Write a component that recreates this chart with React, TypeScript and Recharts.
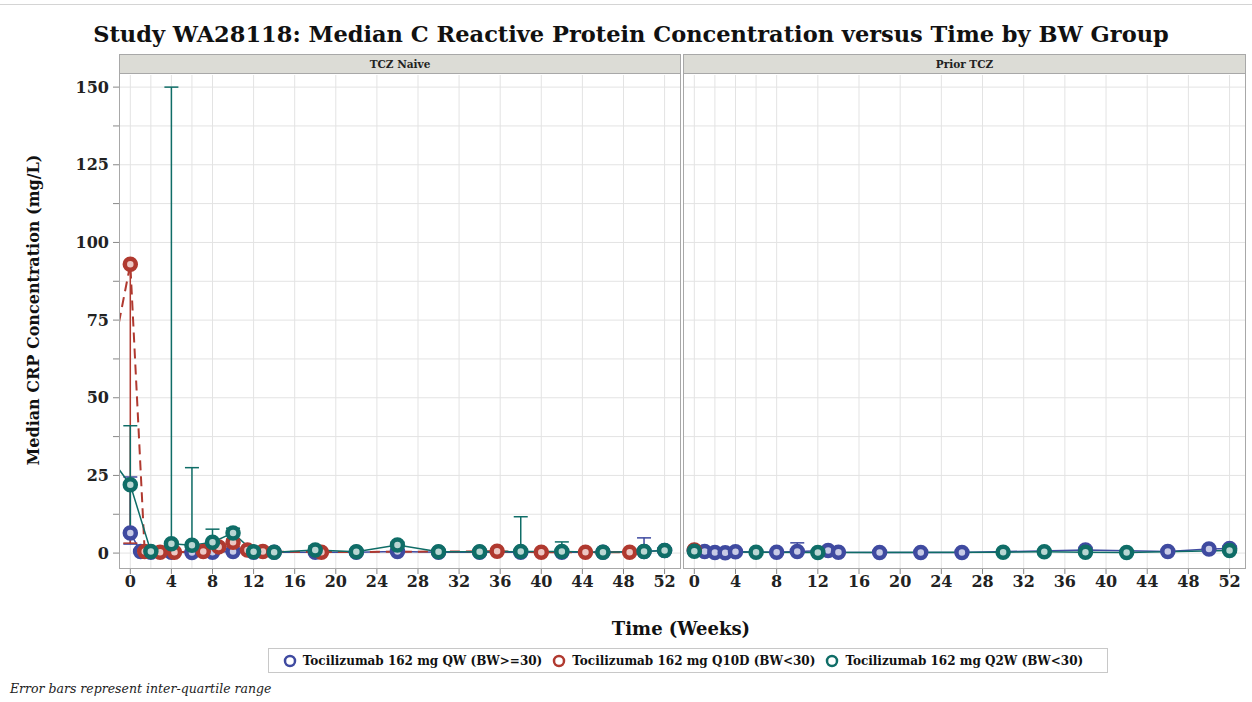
import React from 'react';
import { ComposedChart, Line, XAxis, YAxis, CartesianGrid, ErrorBar } from 'recharts';

const SERIF = "'DejaVu Serif', serif";
const BLUE = '#3f4aa0';
const RED = '#b0392f';
const TEAL = '#0f6d67';

const xTicks = [0, 4, 8, 12, 16, 20, 24, 28, 32, 36, 40, 44, 48, 52];
const xGrid = [0, 2, 4, 6, 8, 10, 12, 14, 16, 18, 20, 22, 24, 26, 28, 30, 32, 34, 36, 38, 40, 42, 44, 46, 48, 50, 52];
const yTicks = [0, 12.5, 25, 37.5, 50, 62.5, 75, 87.5, 100, 112.5, 125, 137.5, 150];

// TCZ Naive - QW (BW>=30)
const naiveWeeksQW = [0, 1, 2, 4, 6, 8, 10, 12, 14, 18, 22, 26, 30, 34, 38, 42, 46, 50, 52];
const naiveMedQW = [6.5, 0.5, 0.3, 0.3, 0.2, 0.3, 0.5, 0.3, 0.3, 0.3, 0.3, 0.5, 0.3, 0.3, 0.3, 0.3, 0.3, 0.5, 0.8];
const naiveQ1QW = [2.9, 0.2, 0.1, 0.1, 0.1, 0.1, 0.2, 0.1, 0.1, 0.1, 0.1, 0.2, 0.1, 0.1, 0.1, 0.1, 0.1, 0.2, 0.3];
const naiveQ3QW = [24.5, 1, 0.8, 0.8, 0.6, 0.8, 1, 0.8, 0.8, 0.8, 0.8, 1, 0.8, 0.8, 0.8, 0.8, 0.8, 4.9, 1.5];

// TCZ Naive - Q10D (BW<30); first point is off the left edge (screening)
const naiveWeeksQ10D = [-2, 0, 1.4, 2.9, 4.3, 7.1, 8.6, 10, 11.4, 12.9, 18.6, 35.7, 40, 44.3, 48.6];
const naiveMedQ10D = [59, 93, 0.5, 0.3, 0.3, 0.5, 2, 3.5, 1, 0.5, 0.3, 0.6, 0.3, 0.3, 0.3];
const naiveQ1Q10D = [null, 3.2, 0.2, 0.1, 0.1, 0.2, 1, 2, 0.4, 0.2, 0.1, 0.2, 0.1, 0.1, 0.1];
const naiveQ3Q10D = [null, 93.5, 1, 0.8, 0.8, 1, 3, 4.5, 1.5, 1, 0.8, 1.2, 0.8, 0.8, 0.8];

// TCZ Naive - Q2W (BW<30)
const naiveWeeksQ2W = [-2, 0, 2, 4, 6, 8, 10, 12, 14, 18, 22, 26, 30, 34, 38, 42, 46, 50, 52];
const naiveMedQ2W = [31, 22, 0.5, 3, 2.5, 3.5, 6.5, 0.4, 0.3, 1, 0.4, 2.6, 0.4, 0.4, 0.5, 0.5, 0.3, 0.5, 0.8];
const naiveQ1Q2W = [null, 6, 0.2, 0.5, 0.5, 1, 4, 0.1, 0.1, 0.3, 0.1, 1, 0.1, 0.1, 0.2, 0.2, 0.1, 0.2, 0.3];
const naiveQ3Q2W = [null, 41, 1, 150, 27.5, 7.7, 8, 1, 0.8, 2.3, 1, 3.5, 1, 1, 11.7, 3.6, 0.8, 1, 1.5];

// Prior TCZ - QW (BW>=30)
const priorWeeksQW = [0, 1, 2, 3, 4, 8, 10, 13, 14, 18, 22, 26, 38, 46, 50, 52];
const priorMedQW = [0.8, 0.5, 0.2, 0.1, 0.4, 0.3, 0.5, 0.8, 0.3, 0.2, 0.2, 0.2, 1, 0.5, 1.3, 1.5];
const priorQ1QW = [0.3, 0.2, 0.1, 0, 0.1, 0.1, 0.2, 0.3, 0.1, 0.1, 0.1, 0.1, 0.4, 0.2, 0.6, 0.7];
const priorQ3QW = [1.5, 1, 0.6, 0.4, 0.9, 0.8, 3.3, 1.4, 0.8, 0.6, 0.6, 0.6, 1.8, 1.1, 2, 2.3];

// Prior TCZ - Q10D (BW<30)
const priorWeeksQ10D = [0];
const priorMedQ10D = [1];
const priorQ1Q10D = [0.5];
const priorQ3Q10D = [1.6];

// Prior TCZ - Q2W (BW<30)
const priorWeeksQ2W = [0, 6, 12, 30, 34, 38, 42, 52];
const priorMedQ2W = [0.6, 0.3, 0.2, 0.3, 0.4, 0.3, 0.2, 0.8];
const priorQ1Q2W = [0.2, 0.1, 0.1, 0.1, 0.1, 0.1, 0.1, 0.3];
const priorQ3Q2W = [1.2, 0.8, 0.6, 0.8, 0.9, 0.8, 0.6, 1.4];

const seriesNames = [
  'Tocilizumab 162 mg QW (BW>=30)',
  'Tocilizumab 162 mg Q10D (BW<30)',
  'Tocilizumab 162 mg Q2W (BW<30)',
];

const rows = (weeks: number[], med: number[], q1: (number | null)[], q3: (number | null)[]) =>
  weeks.map((w, i) => ({
    week: w,
    median: med[i],
    iqr: q1[i] == null || q3[i] == null ? null : [med[i] - (q1[i] as number), (q3[i] as number) - med[i]],
  }));

const panels = [
  {
    title: 'TCZ Naive',
    qw: rows(naiveWeeksQW, naiveMedQW, naiveQ1QW, naiveQ3QW),
    q10d: rows(naiveWeeksQ10D, naiveMedQ10D, naiveQ1Q10D, naiveQ3Q10D),
    q2w: rows(naiveWeeksQ2W, naiveMedQ2W, naiveQ1Q2W, naiveQ3Q2W),
  },
  {
    title: 'Prior TCZ',
    qw: rows(priorWeeksQW, priorMedQW, priorQ1QW, priorQ3QW),
    q10d: rows(priorWeeksQ10D, priorMedQ10D, priorQ1Q10D, priorQ3Q10D),
    q2w: rows(priorWeeksQ2W, priorMedQ2W, priorQ1Q2W, priorQ3Q2W),
  },
];

const tickStyle = { fontFamily: SERIF, fontWeight: 700, fontSize: 16, fill: '#222' };

const dot = (c: string, fill: string) => ({ r: 5.5, stroke: c, strokeWidth: 4.5, fill, strokeDasharray: '0' });

const Panel = ({ p, showY, left, width }: any) => (
  <div style={{ position: 'absolute', left, top: 0 }}>
    <ComposedChart
      width={width}
      height={600}
      margin={{ top: 75, right: showY ? 10 : 0, bottom: 2, left: 0 }}
    >
      <CartesianGrid stroke="#e3e3e3" horizontalValues={yTicks} verticalValues={xGrid} />
      <XAxis
        type="number"
        dataKey="week"
        domain={[-1.1, 53.5]}
        allowDataOverflow
        ticks={xTicks}
        tick={tickStyle}
        tickLine={{ stroke: '#888' }}
        tickSize={6}
        axisLine={false}
        height={30}
      />
      <YAxis
        type="number"
        hide={!showY}
        domain={[-4.8, 153.9]}
        allowDataOverflow
        ticks={yTicks}
        tickFormatter={(v: number) => (v % 25 === 0 ? String(v) : '')}
        tick={tickStyle}
        tickLine={{ stroke: '#888' }}
        tickSize={6}
        tickMargin={4}
        axisLine={false}
        width={119}
      />
      <Line data={p.qw} dataKey="median" stroke={BLUE} strokeWidth={1.5} dot={dot(BLUE, '#c8cbe6')} isAnimationActive={false}>
        <ErrorBar dataKey="iqr" direction="y" width={7} stroke={BLUE} strokeWidth={1.5} />
      </Line>
      <Line data={p.q10d} dataKey="median" stroke={RED} strokeWidth={2} strokeDasharray="10 6" dot={dot(RED, '#ecc8c4')} isAnimationActive={false}>
        <ErrorBar dataKey="iqr" direction="y" width={7} stroke={RED} strokeWidth={1.5} />
      </Line>
      <Line data={p.q2w} dataKey="median" stroke={TEAL} strokeWidth={1.5} dot={dot(TEAL, '#b9d6d3')} isAnimationActive={false}>
        <ErrorBar dataKey="iqr" direction="y" width={7} stroke={TEAL} strokeWidth={1.5} />
      </Line>
    </ComposedChart>
  </div>
);

const Strip = ({ text, left, width }: any) => (
  <>
    <div
      style={{
        position: 'absolute', left, top: 54, width, height: 20, boxSizing: 'border-box',
        background: '#dcdcd6', border: '1px solid #a8a8a8',
        fontFamily: SERIF, fontWeight: 700, fontSize: 10.5, color: '#222',
        textAlign: 'center', lineHeight: '18px',
      }}
    >
      {text}
    </div>
    <div
      style={{
        position: 'absolute', left, top: 54, width, height: 515, boxSizing: 'border-box',
        border: '1px solid #a8a8a8', pointerEvents: 'none',
      }}
    />
  </>
);

const LegendItem = ({ color, label }: any) => (
  <span style={{ display: 'inline-flex', alignItems: 'center', marginRight: 10 }}>
    <svg width={14} height={14} style={{ marginRight: 6 }}>
      <circle cx={7} cy={7} r={5} fill="#fff" stroke={color} strokeWidth={2.5} />
    </svg>
    {label}
  </span>
);

export default function App() {
  return (
    <div style={{ position: 'absolute', left: 0, top: 0, width: 1252, height: 702, background: '#fff', overflow: 'hidden' }}>
      <div style={{ position: 'absolute', left: 0, top: 4, width: 1252, height: 1, background: '#d4d4d4' }} />
      <div
        style={{
          position: 'absolute', left: 0, top: 21, width: 1262, textAlign: 'center',
          fontFamily: SERIF, fontWeight: 700, fontSize: 22.5, color: '#111',
        }}
      >
        Study WA28118: Median C Reactive Protein Concentration versus Time by BW Group
      </div>
      <Panel p={panels[0]} showY left={0} width={690} />
      <Panel p={panels[1]} showY={false} left={683} width={562} />
      <Strip text={panels[0].title} left={119} width={562} />
      <Strip text={panels[1].title} left={683} width={563} />
      <div
        style={{
          position: 'absolute', left: 33, top: 310, transform: 'translate(-50%, -50%) rotate(-90deg)',
          whiteSpace: 'nowrap', fontFamily: SERIF, fontWeight: 700, fontSize: 16, color: '#111',
        }}
      >
        Median CRP Concentration (mg/L)
      </div>
      <div
        style={{
          position: 'absolute', left: 681, top: 628, transform: 'translate(-50%, -50%)',
          whiteSpace: 'nowrap', fontFamily: SERIF, fontWeight: 700, fontSize: 18, color: '#111',
        }}
      >
        Time (Weeks)
      </div>
      <div
        style={{
          position: 'absolute', left: 268, top: 648, width: 840, height: 25, boxSizing: 'border-box',
          border: '1px solid #c8c8c8', display: 'flex', alignItems: 'center', justifyContent: 'center',
          fontFamily: SERIF, fontWeight: 700, fontSize: 12, color: '#111', whiteSpace: 'nowrap',
        }}
      >
        <LegendItem color={BLUE} label={seriesNames[0]} />
        <LegendItem color={RED} label={seriesNames[1]} />
        <LegendItem color={TEAL} label={seriesNames[2]} />
      </div>
      <div
        style={{
          position: 'absolute', left: 10, top: 681, fontFamily: SERIF, fontStyle: 'italic',
          fontSize: 12.5, color: '#222', whiteSpace: 'nowrap',
        }}
      >
        Error bars represent inter-quartile range
      </div>
    </div>
  );
}
